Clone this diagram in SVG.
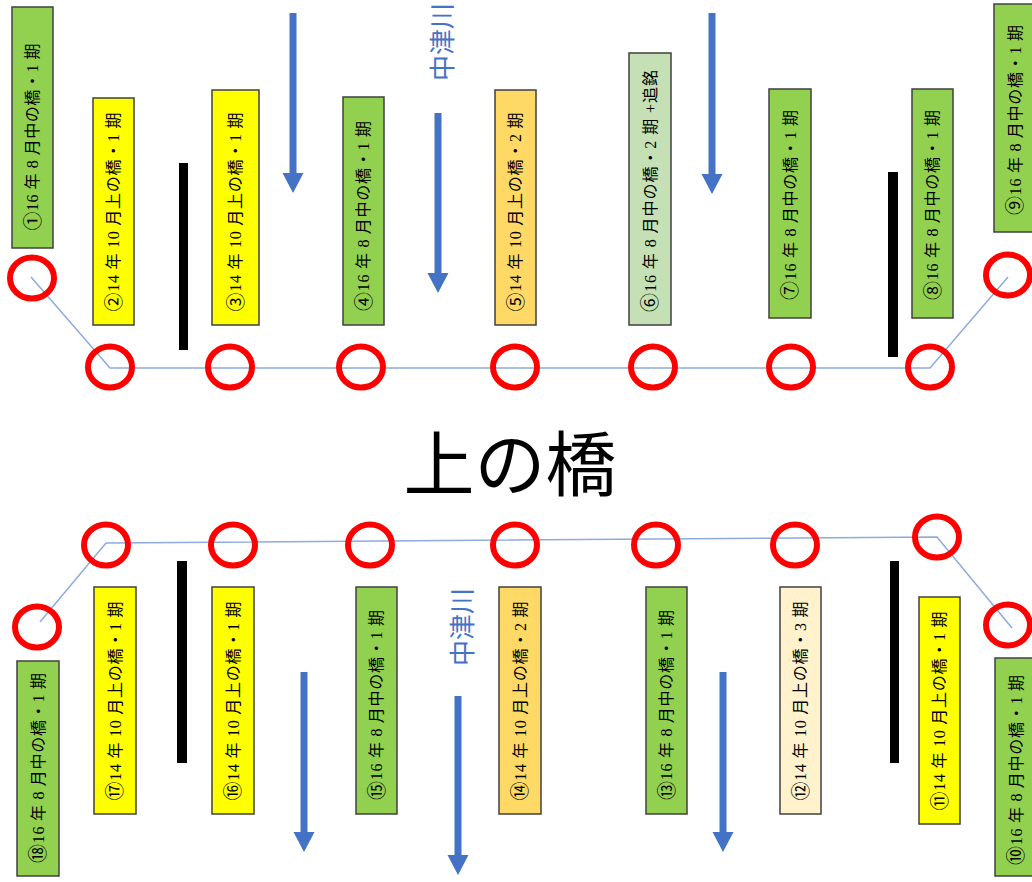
<svg xmlns="http://www.w3.org/2000/svg" width="1032" height="882" viewBox="0 0 1032 882">
<style>
.bx{stroke:#404040;stroke-width:1.5}
.g{fill:#92D050}.y{fill:#FFFF00}.o{fill:#FFD966}.lg{fill:#C5E0B4}.cr{fill:#FFF2CC}
.t{font-family:"Liberation Serif","Noto Sans CJK JP",serif;font-size:16px;fill:#000;text-anchor:middle;dominant-baseline:central}
.n{font-size:19px}
.ring{fill:none;stroke:#FF0000;stroke-width:6}
.ln{fill:none;stroke:#8FAADC;stroke-width:1.5}
.bar{fill:#000}
.arr{fill:#4472C4}
.river{font-family:"Noto Sans CJK JP",sans-serif;font-size:26px;fill:#4472C4;text-anchor:middle;dominant-baseline:central}
.title{font-family:"Noto Sans CJK JP",sans-serif;font-size:71px;fill:#000;text-anchor:middle}
</style>
<rect width="1032" height="882" fill="#fff"/>
<g id="connectors">
<polyline class="ln" points="31,277 110,368 930,368 1008,277"/>
<polyline class="ln" points="40,622 106,543 937,537 1012,628"/>
</g>
<g id="circles">
<ellipse class="ring" cx="32" cy="278" rx="22" ry="20.5"/>
<ellipse class="ring" cx="110" cy="367" rx="22" ry="20.5"/>
<ellipse class="ring" cx="230" cy="367" rx="22" ry="20.5"/>
<ellipse class="ring" cx="361" cy="367" rx="22" ry="20.5"/>
<ellipse class="ring" cx="515" cy="367" rx="22" ry="20.5"/>
<ellipse class="ring" cx="653" cy="367" rx="22" ry="20.5"/>
<ellipse class="ring" cx="791" cy="367" rx="22" ry="20.5"/>
<ellipse class="ring" cx="930" cy="367" rx="22" ry="20.5"/>
<ellipse class="ring" cx="1008" cy="275" rx="22" ry="20.5"/>
<ellipse class="ring" cx="106" cy="545" rx="22" ry="20.5"/>
<ellipse class="ring" cx="37" cy="627" rx="22" ry="20.5"/>
<ellipse class="ring" cx="233" cy="545" rx="22" ry="20.5"/>
<ellipse class="ring" cx="370" cy="545" rx="22" ry="20.5"/>
<ellipse class="ring" cx="515" cy="545" rx="22" ry="20.5"/>
<ellipse class="ring" cx="656" cy="545" rx="22" ry="20.5"/>
<ellipse class="ring" cx="795" cy="545" rx="22" ry="20.5"/>
<ellipse class="ring" cx="937" cy="537" rx="22" ry="20.5"/>
<ellipse class="ring" cx="1008" cy="625" rx="22" ry="20.5"/>
</g>
<g id="bars">
<rect class="bar" x="179" y="163" width="9" height="187"/>
<rect class="bar" x="888" y="172" width="10" height="185"/>
<rect class="bar" x="177" y="561" width="10" height="202"/>
<rect class="bar" x="890" y="561" width="9" height="202"/>
</g>
<g id="arrows">
<path class="arr" d="M289.5,13 h7 v160 h7 l-10.5,20 l-10.5,-20 h7 z"/>
<path class="arr" d="M434.5,113 h7 v160 h7 l-10.5,20 l-10.5,-20 h7 z"/>
<path class="arr" d="M708.5,13 h7 v161 h7 l-10.5,20 l-10.5,-20 h7 z"/>
<path class="arr" d="M300.5,672 h7 v160 h7 l-10.5,20 l-10.5,-20 h7 z"/>
<path class="arr" d="M454.5,696 h7 v159 h7 l-10.5,20 l-10.5,-20 h7 z"/>
<path class="arr" d="M719.5,672 h7 v160 h7 l-10.5,20 l-10.5,-20 h7 z"/>
</g>
<g id="river-top"><text class="river" transform="translate(440,42) rotate(-90)">中津川</text></g>
<g id="river-bottom"><text class="river" transform="translate(460,627) rotate(-90)">中津川</text></g>
<g id="title"><text class="title" x="510" y="490">上の橋</text></g>
<g id="n1"><rect class="bx g" x="12" y="7" width="41" height="241"/><text class="t" transform="translate(32.5,137) rotate(-90)" textLength="187" lengthAdjust="spacing"><tspan class="n">①</tspan>16 年 8 月中の橋・1 期</text></g>
<g id="n2"><rect class="bx y" x="93" y="98" width="41" height="227"/><text class="t" transform="translate(113.5,212) rotate(-90)" textLength="199" lengthAdjust="spacing"><tspan class="n">②</tspan>14 年 10 月上の橋・1 期</text></g>
<g id="n3"><rect class="bx y" x="212" y="90" width="47" height="235"/><text class="t" transform="translate(235.5,212) rotate(-90)" textLength="199" lengthAdjust="spacing"><tspan class="n">③</tspan>14 年 10 月上の橋・1 期</text></g>
<g id="n4"><rect class="bx g" x="343" y="97" width="41" height="228"/><text class="t" transform="translate(363.5,216) rotate(-90)" textLength="190" lengthAdjust="spacing"><tspan class="n">④</tspan>16 年 8 月中の橋・1 期</text></g>
<g id="n5"><rect class="bx o" x="495" y="90" width="41" height="235"/><text class="t" transform="translate(515.5,212) rotate(-90)" textLength="199" lengthAdjust="spacing"><tspan class="n">⑤</tspan>14 年 10 月上の橋・2 期</text></g>
<g id="n6"><rect class="bx lg" x="629" y="53" width="42" height="272"/><text class="t" transform="translate(650,191) rotate(-90)" textLength="242" lengthAdjust="spacing"><tspan class="n">⑥</tspan>16 年 8 月中の橋・2 期 +追銘</text></g>
<g id="n7"><rect class="bx g" x="769" y="89" width="42" height="229"/><text class="t" transform="translate(790,205) rotate(-90)" textLength="190" lengthAdjust="spacing"><tspan class="n">⑦</tspan>16 年 8 月中の橋・1 期</text></g>
<g id="n8"><rect class="bx g" x="912" y="89" width="41" height="229"/><text class="t" transform="translate(932.5,205) rotate(-90)" textLength="190" lengthAdjust="spacing"><tspan class="n">⑧</tspan>16 年 8 月中の橋・1 期</text></g>
<g id="n9"><rect class="bx g" x="994" y="4" width="42" height="228"/><text class="t" transform="translate(1015,120) rotate(-90)" textLength="190" lengthAdjust="spacing"><tspan class="n">⑨</tspan>16 年 8 月中の橋・1 期</text></g>
<g id="n10"><rect class="bx g" x="995" y="658" width="42" height="218"/><text class="t" transform="translate(1016,770) rotate(-90)" textLength="190" lengthAdjust="spacing"><tspan class="n">⑩</tspan>16 年 8 月中の橋・1 期</text></g>
<g id="n11"><rect class="bx y" x="919" y="597" width="41" height="227"/><text class="t" transform="translate(939.5,711) rotate(-90)" textLength="199" lengthAdjust="spacing"><tspan class="n">⑪</tspan>14 年 10 月上の橋・1 期</text></g>
<g id="n12"><rect class="bx cr" x="780" y="587" width="41" height="227"/><text class="t" transform="translate(800.5,701) rotate(-90)" textLength="199" lengthAdjust="spacing"><tspan class="n">⑫</tspan>14 年 10 月上の橋・3 期</text></g>
<g id="n13"><rect class="bx g" x="646" y="587" width="41" height="227"/><text class="t" transform="translate(666.5,705) rotate(-90)" textLength="190" lengthAdjust="spacing"><tspan class="n">⑬</tspan>16 年 8 月中の橋・1 期</text></g>
<g id="n14"><rect class="bx o" x="499" y="587" width="42" height="227"/><text class="t" transform="translate(520,701) rotate(-90)" textLength="199" lengthAdjust="spacing"><tspan class="n">⑭</tspan>14 年 10 月上の橋・2 期</text></g>
<g id="n15"><rect class="bx g" x="356" y="587" width="41" height="227"/><text class="t" transform="translate(376.5,705) rotate(-90)" textLength="190" lengthAdjust="spacing"><tspan class="n">⑮</tspan>16 年 8 月中の橋・1 期</text></g>
<g id="n16"><rect class="bx y" x="212" y="587" width="42" height="227"/><text class="t" transform="translate(233,701) rotate(-90)" textLength="199" lengthAdjust="spacing"><tspan class="n">⑯</tspan>14 年 10 月上の橋・1 期</text></g>
<g id="n17"><rect class="bx y" x="94" y="587" width="42" height="227"/><text class="t" transform="translate(115,701) rotate(-90)" textLength="199" lengthAdjust="spacing"><tspan class="n">⑰</tspan>14 年 10 月上の橋・1 期</text></g>
<g id="n18"><rect class="bx g" x="17" y="661" width="42" height="215"/><text class="t" transform="translate(38,768) rotate(-90)" textLength="190" lengthAdjust="spacing"><tspan class="n">⑱</tspan>16 年 8 月中の橋・1 期</text></g>
</svg>
